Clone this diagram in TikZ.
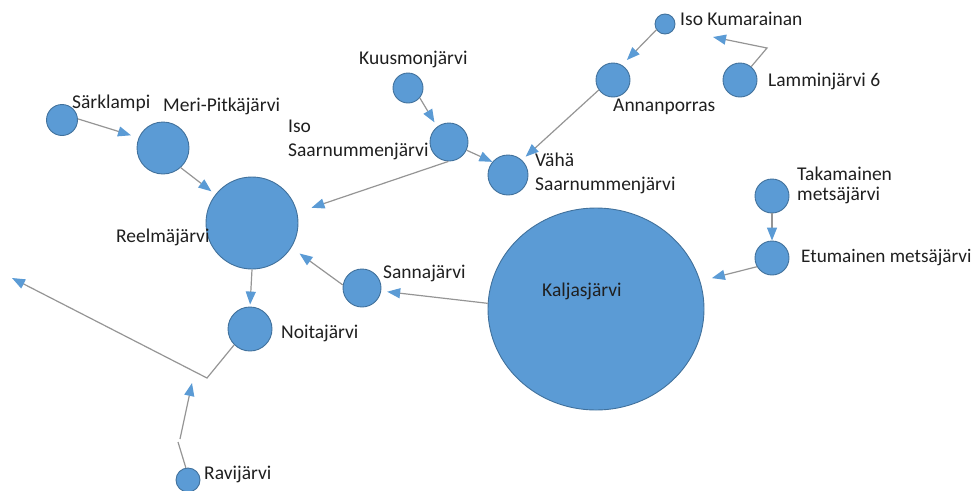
\documentclass[tikz,border=0pt]{standalone}
\usepackage{fontspec}
\setmainfont{Carlito}
\usetikzlibrary{arrows.meta,shapes.geometric}
\definecolor{lakefill}{HTML}{5B9BD5}
\definecolor{lakeedge}{HTML}{41719C}
\definecolor{flowline}{HTML}{959595}
\definecolor{labeltext}{HTML}{1F1F1F}
\tikzset{
  lake/.style={circle, fill=lakefill, draw=lakeedge, line width=0.9pt, inner sep=0pt, minimum size=#1},
  biglake/.style={ellipse, fill=lakefill, draw=lakeedge, line width=0.9pt, inner sep=0pt},
  lakename/.style={inner sep=0pt, anchor=west, text=labeltext, align=left,
    font=\fontsize{19.5}{24}\selectfont},
  flow/.style={draw=flowline, line width=1.2pt,
    -{Triangle[length=13pt,width=10pt,color=lakefill]}},
  link/.style={draw=flowline, line width=1.2pt},
}
\begin{document}
\begin{tikzpicture}[x=1pt,y=-1pt]
\useasboundingbox (0,0) rectangle (973,490);

% lakes
\node[lake=20pt] (isokum) at (665,24) {};
\node[lake=34pt] (ann)    at (613,80) {};
\node[lake=34pt] (lamm)   at (740,80) {};
\node[lake=30pt] (kuus)   at (408,88) {};
\node[lake=31pt] (sark)   at (62,120) {};
\node[lake=52pt] (meri)   at (163,148) {};
\node[lake=92pt] (reel)   at (252,223) {};
\node[lake=38pt] (iso)    at (449,142) {};
\node[lake=40pt] (vaha)   at (508,175) {};
\node[biglake, minimum width=216pt, minimum height=202pt] (kalj) at (596,309) {};
\node[lake=34pt] (taka)   at (772,196) {};
\node[lake=34pt] (etum)   at (772,258) {};
\node[lake=38pt] (sanna)  at (362,288) {};
\node[lake=44pt] (noit)   at (250,329) {};
\node[lake=24pt] (ravi)   at (188,480) {};

% lake names
\node[lakename] (isokum-name) at (680,19)  {Iso Kumarainan};
\node[lakename] (ann-name)    at (613,107) {Annanporras};
\node[lakename] (lamm-name)   at (768,81)  {Lamminjärvi 6};
\node[lakename] (kuus-name)   at (359,59)  {Kuusmonjärvi};
\node[lakename] (sark-name)   at (72,103)  {Särklampi};
\node[lakename] (meri-name)   at (163,106) {Meri-Pitkäjärvi};
\node[lakename] (iso-name)    at (288,140) {Iso\\Saarnummenjärvi};
\node[lakename, font=\fontsize{19.5}{23.5}\selectfont] (vaha-name) at (535,173.5) {Vähä\\Saarnummenjärvi};
\node[lakename] (reel-name)   at (116,237) {Reelmäjärvi};
\node[lakename, font=\fontsize{19.5}{19.5}\selectfont] (taka-name) at (797,185.5) {Takamainen\\metsäjärvi};
\node[lakename, font=\fontsize{19.2}{23}\selectfont] (etum-name) at (801,258) {Etumainen metsäjärvi};
\node[lakename] (kalj-name)   at (542,291) {Kaljasjärvi};
\node[lakename] (sanna-name)  at (383,273) {Sannajärvi};
\node[lakename] (noit-name)   at (281,333) {Noitajärvi};
\node[lakename] (ravi-name)   at (204,474) {Ravijärvi};

% free ends and bends of the outflows
\coordinate (lammbend) at (767,48);
\coordinate (lammtip)  at (713,37);
\coordinate (noitbend) at (207,378);
\coordinate (westtip)  at (12,278);
\coordinate (ravibend) at (178,442);
\coordinate (ravijoin) at (180,439);
\coordinate (ravitip)  at (192,383);

% flows between lakes
\draw[flow, shorten >=7pt]  (isokum.214) -- (ann.59);
\draw[flow] (lamm.50) -- (lammbend) -- (lammtip);
\draw[flow, shorten >=5pt]  (ann.215) -- (vaha.47);
\draw[flow, shorten >=5pt]  (kuus.-40) -- (iso.128);
\draw[flow] (iso.-25) -- (vaha.140);
\draw[flow, shorten >=15pt] (iso.268) -- (reel.13);
\draw[flow, shorten >=8pt]  (sark.4) -- (meri.157);
\draw[flow, shorten >=5pt]  (meri.-48) -- (reel.142);
\draw[flow, shorten >=2pt]  (reel.270) -- (noit.90);
\draw[flow, shorten >=10pt] (sanna.171) -- (reel.-32);
\draw[flow, shorten >=6pt]  (kalj.177) -- (sanna.-9);
\draw[flow, shorten >=12pt] (etum.210) -- (kalj.15);
\draw[flow] (taka.270) -- (etum.90);
\draw[flow] (noit.225) -- (noitbend) -- (westtip);
\draw[link] (ravi.100) -- (ravibend);
\draw[flow] (ravijoin) -- (ravitip);
\end{tikzpicture}
\end{document}
